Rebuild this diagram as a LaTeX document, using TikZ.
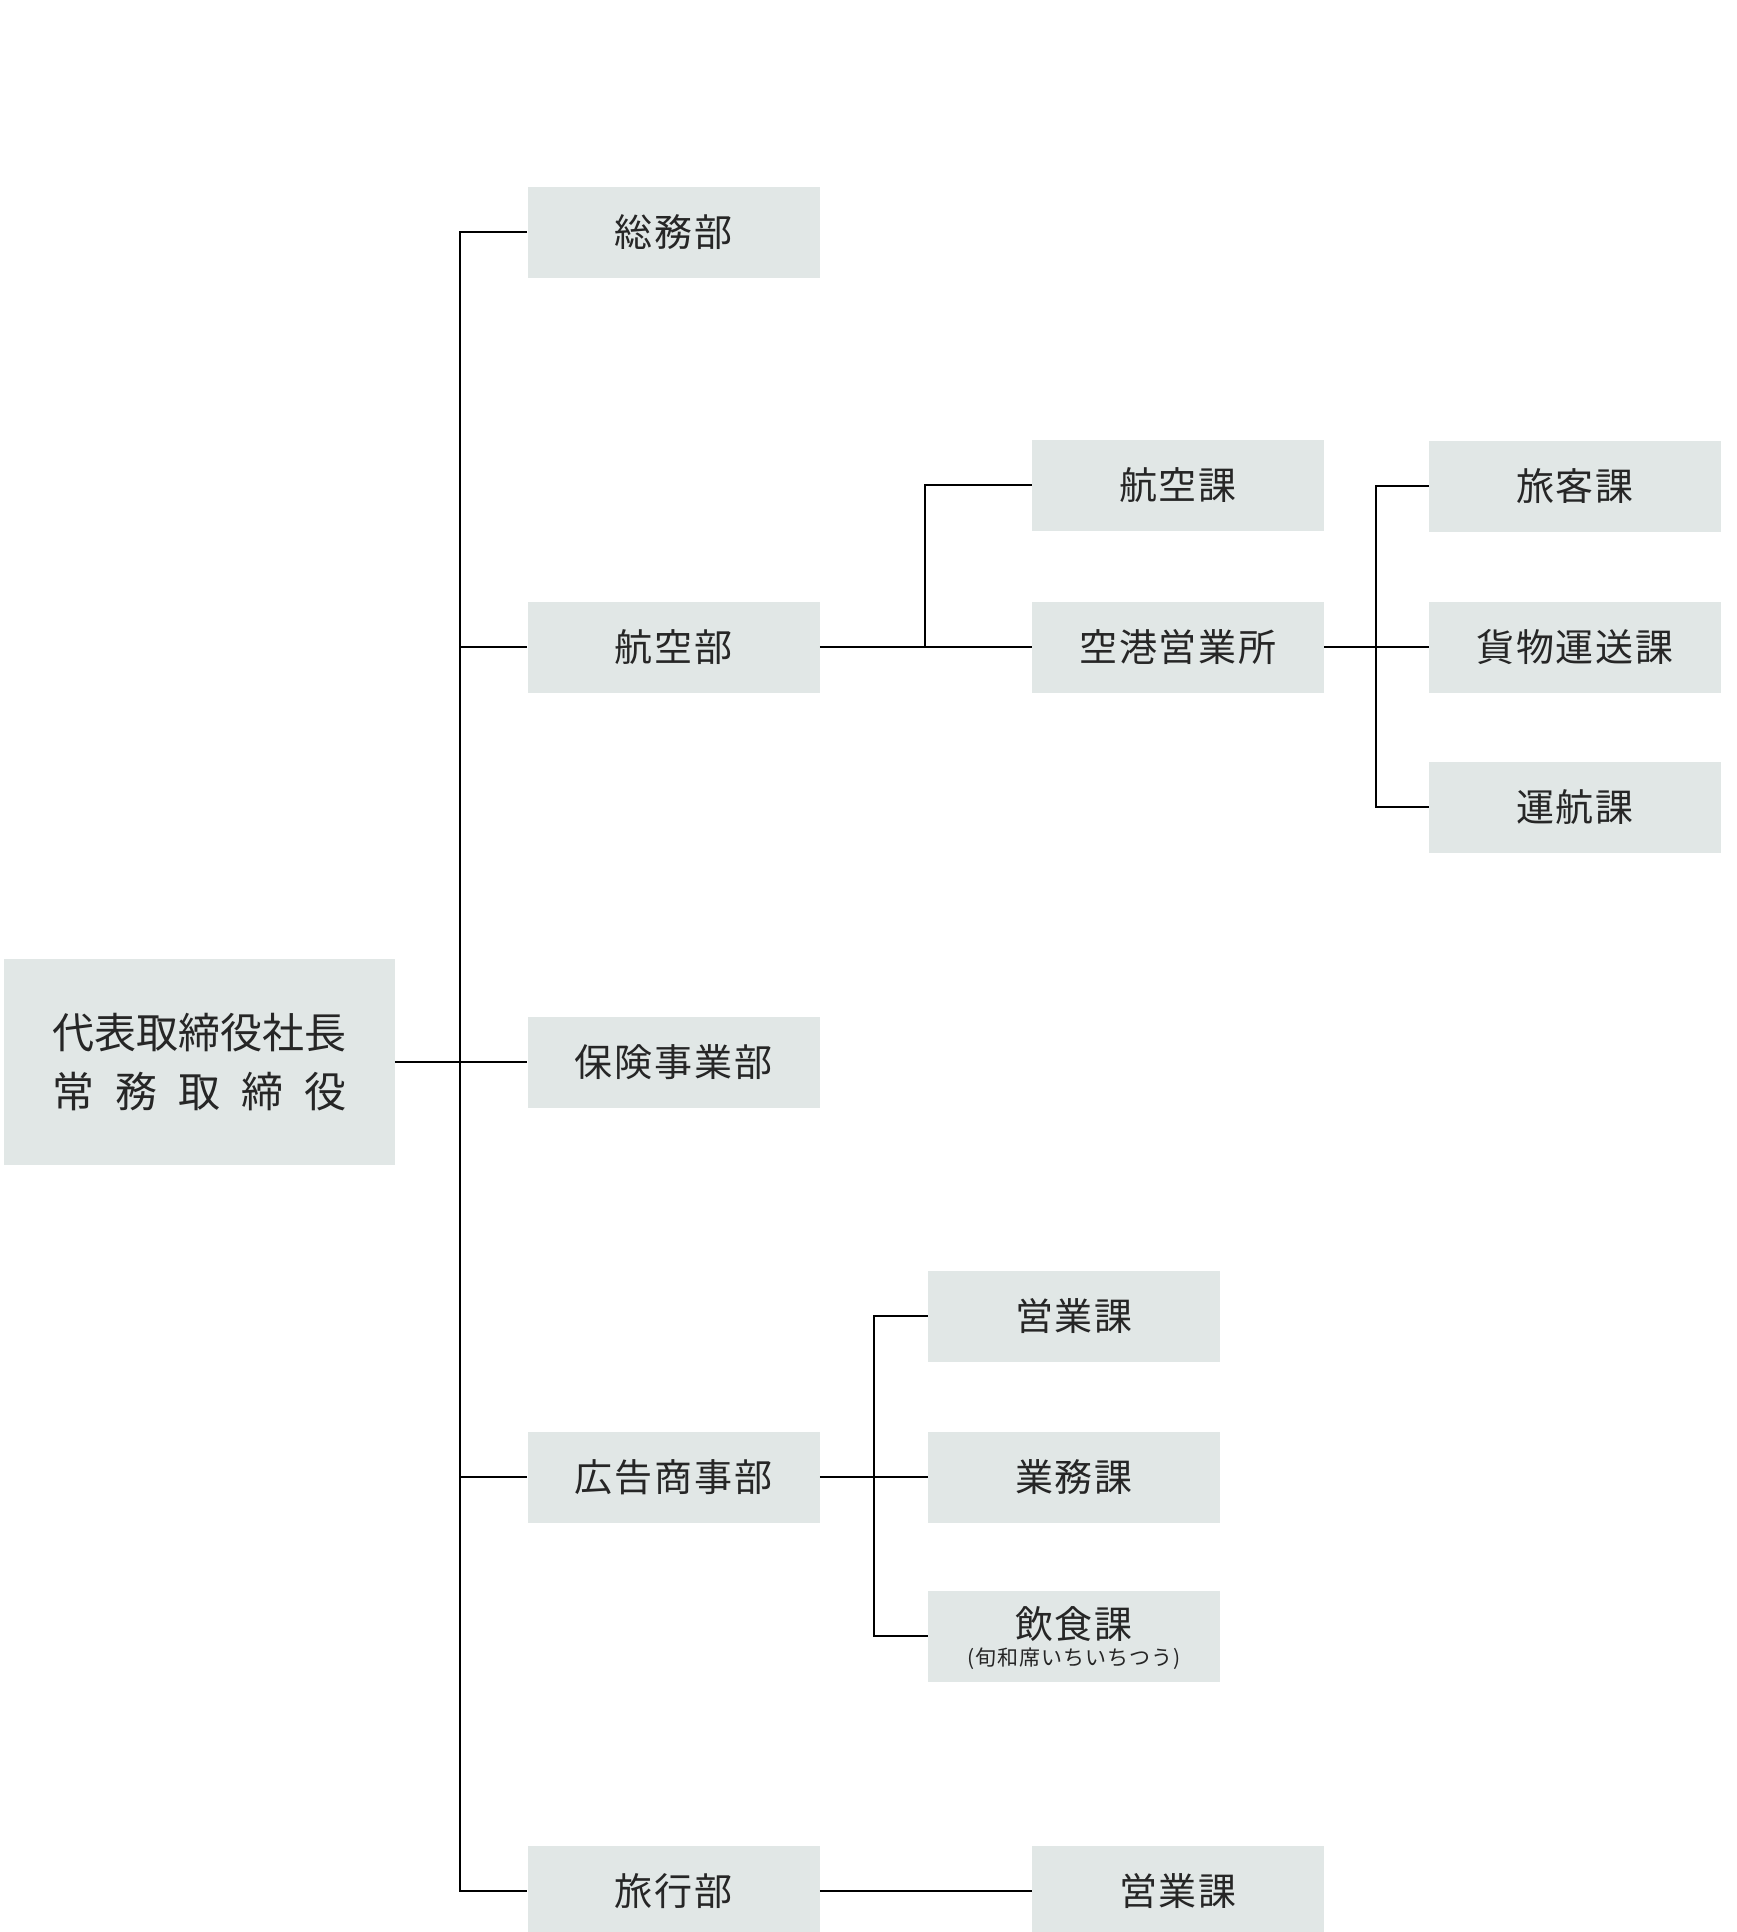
\documentclass[tikz,border=0pt]{standalone}
\usepackage{fontspec}
\newfontfamily\jp[LetterSpace=5]{Noto Sans CJK JP}
\newfontfamily\jptight{Noto Sans CJK JP}
\definecolor{boxgray}{HTML}{E1E7E6}
\begin{document}
\begin{tikzpicture}[x=0.5pt,y=-0.5pt,
  unit/.style={fill=boxgray, inner sep=0pt, minimum width=146pt, minimum height=45.5pt,
    font=\jp\fontsize{19pt}{22pt}\selectfont, text=black!85, align=center},
  lbl/.style={inner sep=0pt, text=black!85, font=\jp\fontsize{19pt}{22pt}\selectfont},
  conn/.style={draw=black, line width=1.1pt}]
\useasboundingbox (0,0) rectangle (1736,1932);
% top executive
\node[fill=boxgray, inner sep=0pt, minimum width=195.5pt, minimum height=103pt,
  font=\jptight\fontsize{21pt}{29.5pt}\selectfont, text=black!85, align=center]
  (pres) at (199,1062) {代表取締役社長\\\makebox[147pt]{常\hfill 務\hfill 取\hfill 締\hfill 役}};
% departments
\node[unit] (somu)   at (673.5,232)  {総務部};
\node[unit] (koku)   at (673.5,647)  {航空部};
\node[unit] (hoken)  at (673.5,1062) {保険事業部};
\node[unit] (kokoku) at (673.5,1477) {広告商事部};
\node[unit] (ryoko)  at (673.5,1891) {旅行部};
% 航空部 sections
\node[unit] (kokuka) at (1178,485) {航空課};
\node[unit] (kuko)   at (1178,647) {空港営業所};
% 空港営業所 sections
\node[unit] (ryokaku) at (1575,486) {旅客課};
\node[unit] (kamotsu) at (1575,647) {貨物運送課};
\node[unit] (unko)    at (1575,807) {運航課};
% 広告商事部 sections
\node[unit] (eigyo1)  at (1074,1316) {営業課};
\node[unit] (gyomu)   at (1074,1477) {業務課};
\node[unit] (inshoku) at (1074,1636) {};
\node[lbl] (inshokuname) at (1074,1624) {飲食課};
\node[lbl, font=\jp\fontsize{10.5pt}{12pt}\selectfont] (inshokusub) at (1074,1659) {(旬和席いちいちつう)};
% 旅行部 section
\node[unit] (eigyo2)  at (1178,1891) {営業課};
% connectors
\draw[conn] (somu.west) -- ++(-67,0) |- (ryoko.west);
\draw[conn] (koku.west) -- ++(-67,0);
\draw[conn] (kokoku.west) -- ++(-67,0);
\draw[conn] (pres.east) -- (hoken.west);
\draw[conn] (koku.east) -- (kuko.west);
\draw[conn] (kokuka.west) -- ++(-107,0) |- (kuko.west);
\draw[conn] (kuko.east) -- (kamotsu.west);
\draw[conn] (ryokaku.west) -- ++(-53,0) |- (unko.west);
\draw[conn] (kokoku.east) -- (gyomu.west);
\draw[conn] (eigyo1.west) -- ++(-54,0) |- (inshoku.west);
\draw[conn] (ryoko.east) -- (eigyo2.west);
\end{tikzpicture}
\end{document}
